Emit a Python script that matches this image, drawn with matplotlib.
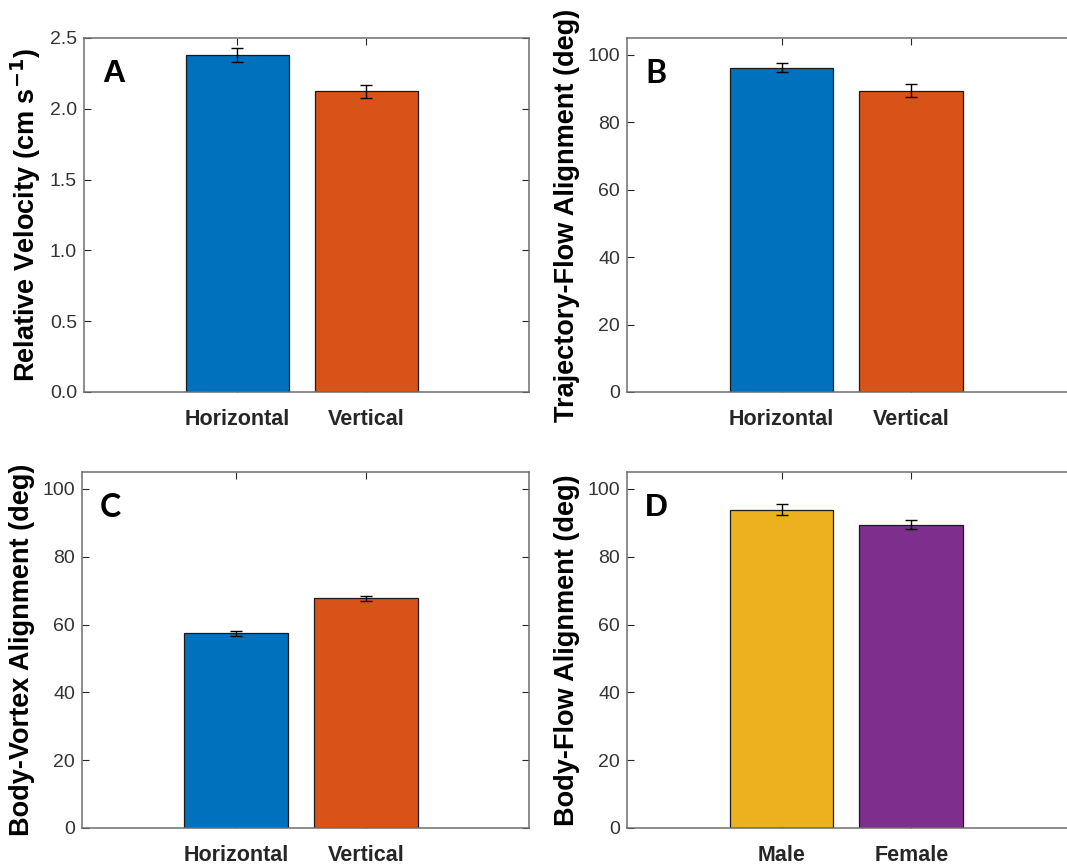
import matplotlib
matplotlib.use("Agg")
import matplotlib.pyplot as plt
from matplotlib.ticker import FormatStrFormatter

# Panel data: group names, mean values and standard errors
orient_groups = ["Horizontal", "Vertical"]
sex_groups = ["Male", "Female"]

rel_velocity = [2.377, 2.123]
rel_velocity_err = [0.05, 0.045]

traj_flow = [96.2, 89.4]
traj_flow_err = [1.4, 1.9]

body_vortex = [57.4, 67.7]
body_vortex_err = [0.8, 0.8]

body_flow = [93.9, 89.5]
body_flow_err = [1.6, 1.35]

blue = "#0072BD"
orange = "#D95319"
yellow = "#EDB120"
purple = "#7E2F8E"
axis_gray = "#262626"

W, H = 1067, 865
fig = plt.figure(figsize=(W / 100, H / 100), dpi=100)


def px_axes(left, top, right, bottom):
    return fig.add_axes([left / W, 1 - bottom / H, (right - left) / W, (bottom - top) / H])


def panel(ax, labels, values, errs, colors, ylim, yticks, fmt, ylabel, letter, letter_font):
    x = [1, 2]
    ax.bar(x, values, width=0.8, color=colors, edgecolor="#1a1a1a", linewidth=0.9, zorder=2)
    ax.errorbar(x, values, yerr=errs, fmt="none", ecolor="black", elinewidth=1.0,
                capsize=4.5, capthick=1.0, zorder=3)
    ax.set_xlim(-0.19, 3.26)
    ax.set_ylim(*ylim)
    ax.set_yticks(yticks)
    ax.yaxis.set_major_formatter(FormatStrFormatter(fmt))
    ax.set_xticks(x)
    ax.set_xticklabels(labels, fontsize=15.5, fontweight="bold", color=axis_gray,
                       family="Liberation Sans")
    for t in ax.get_yticklabels():
        t.set_fontsize(14)
        t.set_family("Liberation Sans")
        t.set_color("#333333")
    ax.tick_params(axis="both", direction="in", length=5, width=0.8, color=axis_gray,
                   top=True, right=True)
    ax.tick_params(axis="x", pad=12)
    ax.tick_params(axis="y", pad=5)
    for s in ax.spines.values():
        s.set_color("#6e6e6e")
        s.set_linewidth(1.1)
    ax.set_ylabel(ylabel, fontsize=19.5, fontweight="bold", family="Liberation Sans",
                  color="black", labelpad=5)
    ax.text(0.04, 0.94, letter, transform=ax.transAxes, fontsize=23, fontweight="bold",
            family=letter_font, va="top", ha="left", color="black")


axA = px_axes(84, 38, 529, 392)
axB = px_axes(627, 38, 1075, 392)
axC = px_axes(82, 472, 529, 828)
axD = px_axes(627, 472, 1075, 828)

panel(axA, orient_groups, rel_velocity, rel_velocity_err, [blue, orange], (0, 2.5),
      [0, 0.5, 1.0, 1.5, 2.0, 2.5], "%.1f", r"Relative Velocity (cm s$^{\mathbf{-1}}$)",
      "A", "Liberation Sans")
panel(axB, orient_groups, traj_flow, traj_flow_err, [blue, orange], (0, 105),
      [0, 20, 40, 60, 80, 100], "%d", "Trajectory-Flow Alignment (deg)", "B", "Lato")
panel(axC, orient_groups, body_vortex, body_vortex_err, [blue, orange], (0, 105),
      [0, 20, 40, 60, 80, 100], "%d", "Body-Vortex Alignment (deg)", "C", "Lato")
panel(axD, sex_groups, body_flow, body_flow_err, [yellow, purple], (0, 105),
      [0, 20, 40, 60, 80, 100], "%d", "Body-Flow Alignment (deg)", "D", "Liberation Sans")

fig.savefig("out.png", dpi=100)
